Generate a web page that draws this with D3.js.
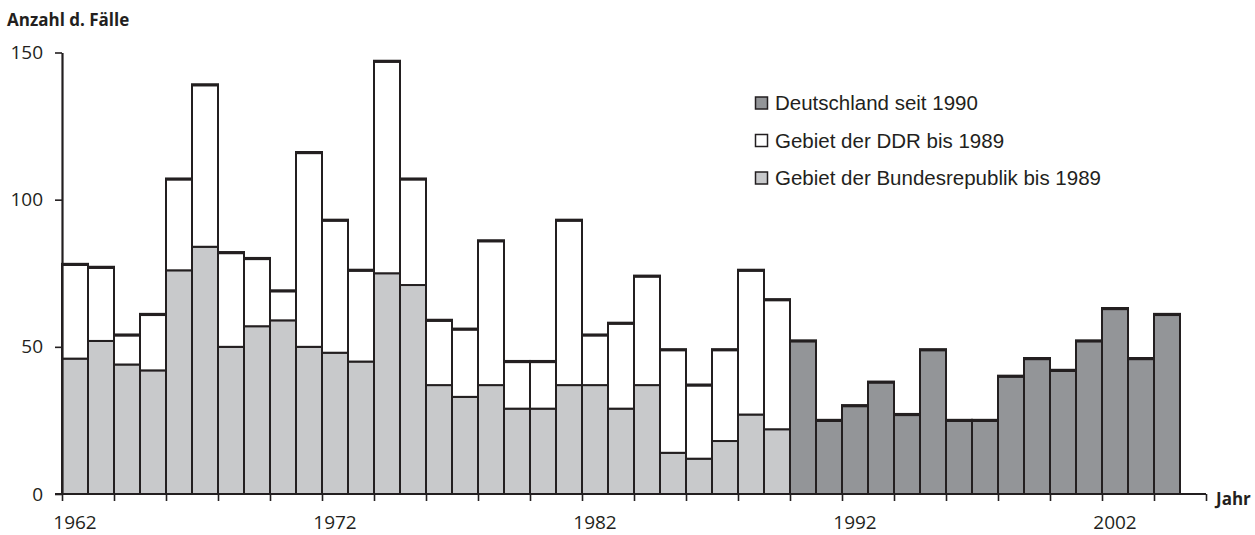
<!DOCTYPE html>
<html>
<head>
<meta charset="utf-8">
<script src="https://cdn.jsdelivr.net/npm/d3@7"></script>
<style>
  body { margin: 0; background: #fff; }
  svg text { fill: #231f20; }
</style>
</head>
<body>
<div id="chart"></div>
<script>
// Jahre des früheren Bundesgebiets / der DDR
const yearsSplit = d3.range(1962, 1990);
const bundesrepublik = [46, 52, 44, 42, 76, 84, 50, 57, 59, 50, 48, 45, 75, 71,
  37, 33, 37, 29, 29, 37, 37, 29, 37, 14, 12, 18, 27, 22];
const ddr = [32, 25, 10, 19, 31, 55, 32, 23, 10, 66, 45, 31, 72, 36,
  22, 23, 49, 16, 16, 56, 17, 29, 37, 35, 25, 31, 49, 44];

// Deutschland gesamt
const yearsUnified = d3.range(1990, 2005);
const deutschland = [52, 25, 30, 38, 27, 49, 25, 25, 40, 46, 42, 52, 63, 46, 61];

const yTicks = [0, 50, 100, 150];
const yearLabels = [1962, 1972, 1982, 1992, 2002];
const legendItems = [
  { label: "Deutschland seit 1990", color: "#939598" },
  { label: "Gebiet der DDR bis 1989", color: "#ffffff" },
  { label: "Gebiet der Bundesrepublik bis 1989", color: "#c8c9cb" }
];

const width = 1255, height = 535;
const ink = "#231f20";

const svg = d3.select("#chart")
  .append("svg")
  .attr("width", width)
  .attr("height", height);

const x = d3.scaleLinear().domain([1962, 2006]).range([62, 1206]);
const y = d3.scaleLinear().domain([0, 150]).range([494, 52.5]);

// Balken: Bundesrepublik + DDR gestapelt
const split = yearsSplit.map((yr, i) => ({
  year: yr, west: bundesrepublik[i], east: ddr[i]
}));
const unified = yearsUnified.map((yr, i) => ({ year: yr, value: deutschland[i] }));

const bars = svg.append("g");

bars.selectAll("rect.west")
  .data(split)
  .join("rect")
  .attr("class", "west")
  .attr("x", d => x(d.year))
  .attr("width", d => x(d.year + 1) - x(d.year))
  .attr("y", d => y(d.west))
  .attr("height", d => y(0) - y(d.west))
  .attr("fill", "#c8c9cb")
  .attr("stroke", ink)
  .attr("stroke-width", 2);

bars.selectAll("rect.east")
  .data(split)
  .join("rect")
  .attr("class", "east")
  .attr("x", d => x(d.year))
  .attr("width", d => x(d.year + 1) - x(d.year))
  .attr("y", d => y(d.west + d.east))
  .attr("height", d => y(d.west) - y(d.west + d.east))
  .attr("fill", "#fff")
  .attr("stroke", ink)
  .attr("stroke-width", 2);

bars.selectAll("rect.unified")
  .data(unified)
  .join("rect")
  .attr("class", "unified")
  .attr("x", d => x(d.year))
  .attr("width", d => x(d.year + 1) - x(d.year))
  .attr("y", d => y(d.value))
  .attr("height", d => y(0) - y(d.value))
  .attr("fill", "#939598")
  .attr("stroke", ink)
  .attr("stroke-width", 2);

// dicke Oberkante
const tops = split.map(d => ({ year: d.year, v: d.west + d.east }))
  .concat(unified.map(d => ({ year: d.year, v: d.value })));
bars.selectAll("line.top")
  .data(tops)
  .join("line")
  .attr("class", "top")
  .attr("x1", d => x(d.year) - 1)
  .attr("x2", d => x(d.year + 1) + 1)
  .attr("y1", d => y(d.v))
  .attr("y2", d => y(d.v))
  .attr("stroke", ink)
  .attr("stroke-width", 3.2);

// y-Achse
const yAxis = svg.append("g")
  .attr("transform", `translate(${x(1962)},0)`)
  .call(d3.axisLeft(y).tickValues(yTicks).tickSize(7).tickSizeOuter(0).tickPadding(12));
yAxis.select(".domain").attr("stroke", ink).attr("stroke-width", 2.2);
yAxis.selectAll(".tick line").attr("stroke", ink).attr("stroke-width", 1.6);
yAxis.selectAll(".tick text")
  .attr("font-family", "'Open Sans', sans-serif")
  .attr("font-size", 19)
  .attr("fill", ink);

// x-Achse
const xAxis = svg.append("g")
  .attr("transform", `translate(0,${y(0)})`)
  .call(d3.axisBottom(x).tickValues(d3.range(1962, 2007, 2)).tickSize(7)
    .tickSizeOuter(0).tickFormat(""));
xAxis.select(".domain")
  .attr("d", `M55,0H${x(2006)}`)
  .attr("stroke", ink).attr("stroke-width", 1.8);
xAxis.selectAll(".tick line").attr("stroke", ink).attr("stroke-width", 1.6);

svg.append("g")
  .selectAll("text")
  .data(yearLabels)
  .join("text")
  .attr("x", d => x(d + 0.5))
  .attr("y", 529)
  .attr("text-anchor", "middle")
  .attr("font-family", "'Open Sans', sans-serif")
  .attr("font-size", 19)
  .text(d => d);

// Achsentitel
svg.append("text")
  .attr("x", 7)
  .attr("y", 26)
  .attr("font-family", "'Open Sans', sans-serif")
  .attr("font-weight", "bold")
  .attr("font-size", 17)
  .text("Anzahl d. Fälle");

svg.append("text")
  .attr("x", 1216)
  .attr("y", 505)
  .attr("font-family", "'Open Sans', sans-serif")
  .attr("font-weight", "bold")
  .attr("font-size", 17)
  .text("Jahr");

// Legende
const legend = svg.append("g").attr("transform", "translate(755,0)");
const rows = legend.selectAll("g")
  .data(legendItems)
  .join("g")
  .attr("transform", (d, i) => `translate(0,${110 + i * 37.5})`);
rows.append("rect")
  .attr("x", 0.5)
  .attr("y", -13)
  .attr("width", 12)
  .attr("height", 12)
  .attr("fill", d => d.color)
  .attr("stroke", ink)
  .attr("stroke-width", 1.5);
rows.append("text")
  .attr("x", 20)
  .attr("y", 0)
  .attr("font-family", "'Liberation Sans', Arial, sans-serif")
  .attr("font-size", 20.5)
  .text(d => d.label);
</script>
</body>
</html>
